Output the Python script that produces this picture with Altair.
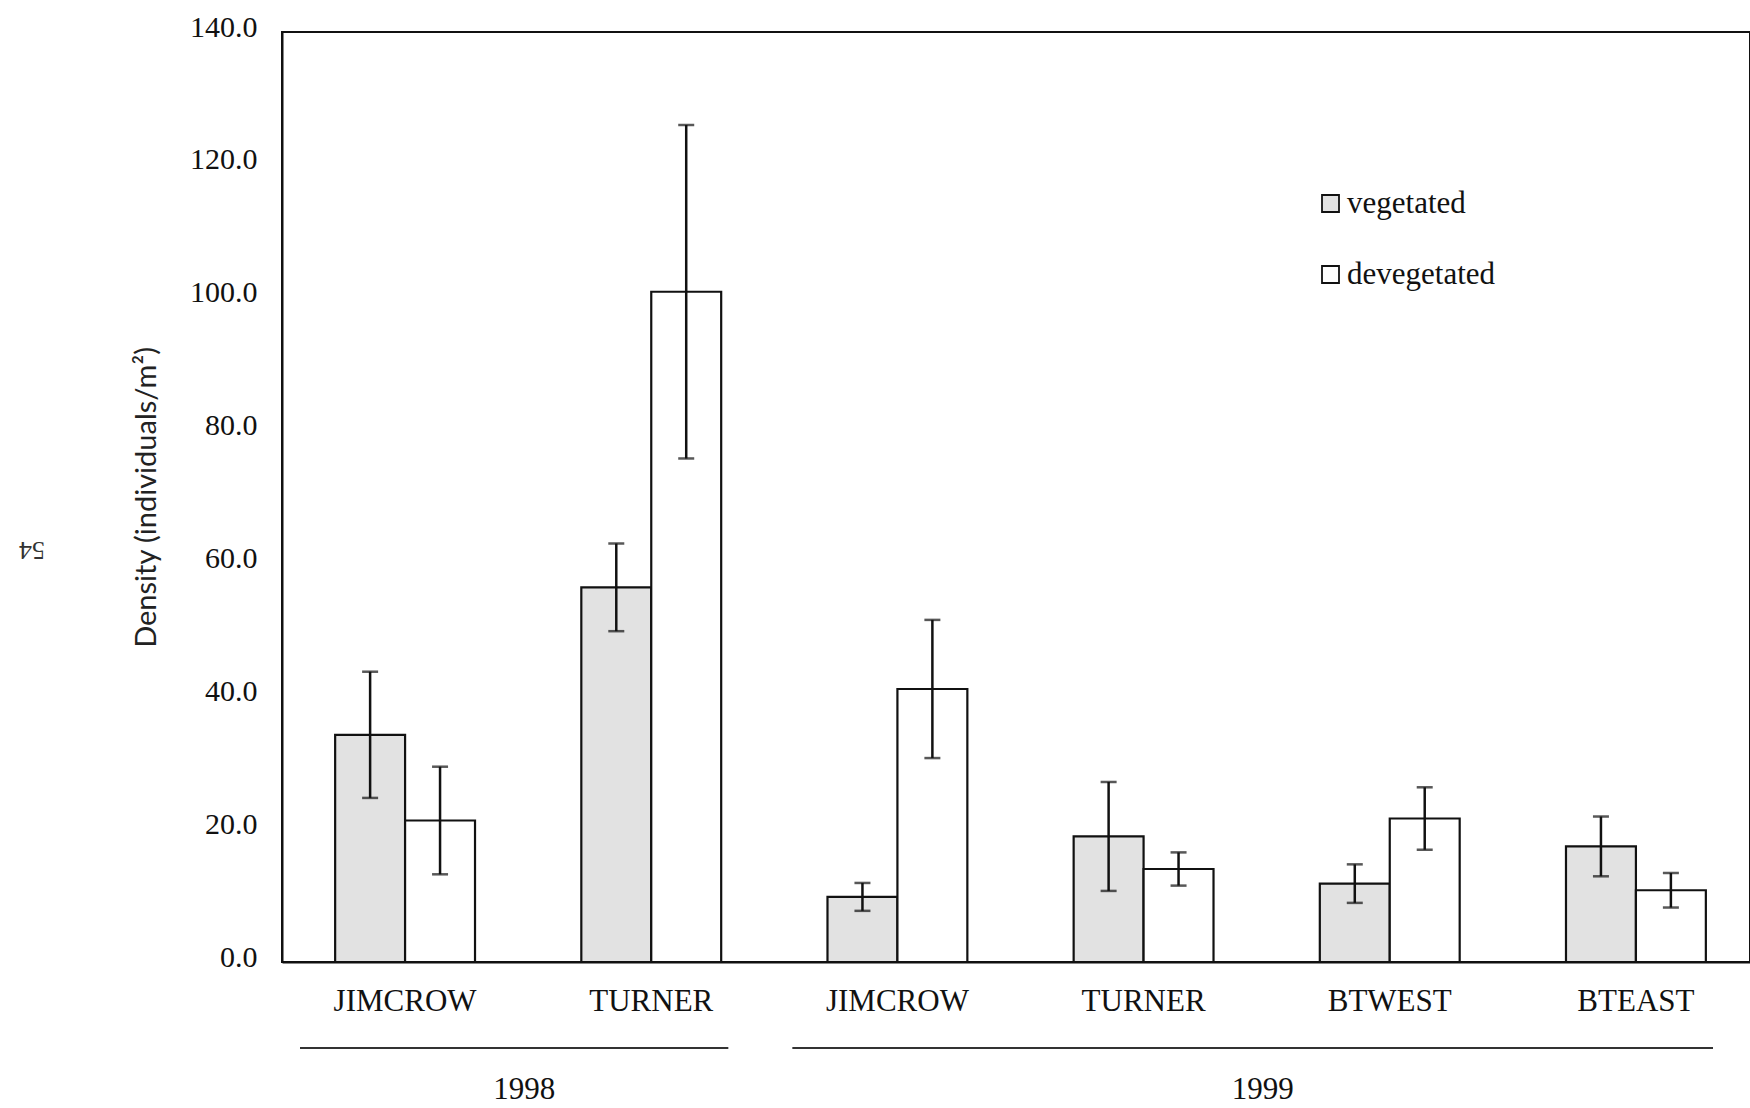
import altair as alt
import pandas as pd

# Mean density (individuals/m²) and standard error per site, by treatment
years = ["1998", "1998", "1999", "1999", "1999", "1999"]
sites = ["JIMCROW", "TURNER", "JIMCROW", "TURNER", "BTWEST", "BTEAST"]
veg_mean = [34.2, 56.4, 9.8, 18.9, 11.8, 17.4]
veg_se = [9.5, 6.6, 2.1, 8.2, 2.9, 4.5]
deveg_mean = [21.3, 100.9, 41.1, 14.0, 21.6, 10.8]
deveg_se = [8.1, 25.1, 10.4, 2.5, 4.7, 2.6]

treatments = ["vegetated", "devegetated"]
treatment_fill = ["#e2e2e2", "#ffffff"]

# Year groupings along the x axis, in site-slot units
year_labels = ["1998", "1999"]
year_first_slot = [0, 2]
year_last_slot = [2, 6]

y_ticks = [0, 20, 40, 60, 80, 100, 120, 140]

SERIF = "Liberation Serif"

keys = [f"{y} {s}" for y, s in zip(years, sites)]
rows = []
for i, k in enumerate(keys):
    for t, m, e in (("vegetated", veg_mean[i], veg_se[i]),
                    ("devegetated", deveg_mean[i], deveg_se[i])):
        rows.append({"key": k, "treatment": t, "mean": m,
                     "lo": m - e, "hi": m + e})
df = pd.DataFrame(rows)
caps = pd.concat([
    df[["key", "treatment", "lo"]].rename(columns={"lo": "cap"}),
    df[["key", "treatment", "hi"]].rename(columns={"hi": "cap"}),
])

year_df = pd.DataFrame({
    "year": year_labels,
    "start": year_first_slot,
    "end": year_last_slot,
})
year_df["mid"] = (year_df["start"] + year_df["end"]) / 2

RANGE_X = [0, 1477]

site_axis = alt.Axis(
    title=None,
    labelExpr="split(datum.label, ' ')[1]",
    labelFont=SERIF,
    labelFontSize=31,
    labelColor="#111111",
    labelAngle=0,
    labelBaseline="alphabetic",
    labelPadding=48,
    labelOverlap=False,
    ticks=False,
    tickSize=0,
    domainColor="#111111",
    domainWidth=2,
)
x_enc = alt.X(
    "key:N",
    sort=keys,
    scale=alt.Scale(range=RANGE_X, paddingInner=0, paddingOuter=0),
    axis=site_axis,
)
xoff = alt.XOffset(
    "treatment:N",
    sort=treatments,
    scale=alt.Scale(domain=treatments, paddingInner=0, paddingOuter=0.76),
)
y_scale = alt.Scale(domain=[0, 140], nice=False)

density_axis = alt.Axis(
    title="Density (individuals/m²)",
    titleFont="Lato",
    titleFontSize=29,
    titleFontWeight="normal",
    titleColor="#222222",
    titleAngle=270,
    titleAlign="center",
    titleBaseline="middle",
    titleX=-136,
    titleY=465,
    values=y_ticks,
    format=".1f",
    labelFont=SERIF,
    labelFontSize=30,
    labelColor="#111111",
    labelPadding=25,
    labelOffset=-5,
    ticks=False,
    tickSize=0,
    grid=False,
    domainColor="#111111",
    domainWidth=2,
)

bars = alt.Chart(df).mark_bar(stroke="#111111", strokeWidth=2.2).encode(
    x=x_enc,
    xOffset=xoff,
    y=alt.Y("mean:Q", scale=y_scale, axis=density_axis),
    fill=alt.Fill(
        "treatment:N",
        sort=treatments,
        scale=alt.Scale(domain=treatments, range=treatment_fill),
        legend=alt.Legend(
            title=None,
            orient="none",
            legendX=1033,
            legendY=156,
            symbolType="square",
            symbolSize=289,
            symbolStrokeColor="#111111",
            symbolStrokeWidth=1.8,
            labelFont=SERIF,
            labelFontSize=31,
            labelColor="#111111",
            labelOffset=1,
            rowPadding=39,
        ),
    ),
)

whiskers = alt.Chart(df).mark_rule(color="#111111", strokeWidth=2.5).encode(
    x=x_enc, xOffset=xoff,
    y=alt.Y("lo:Q", scale=y_scale, axis=density_axis), y2="hi:Q",
)

cap_marks = alt.Chart(caps).mark_tick(
    color="#111111", size=16, thickness=2.5, orient="horizontal"
).encode(
    x=x_enc, xOffset=xoff,
    y=alt.Y("cap:Q", scale=y_scale, axis=density_axis),
)

plot = alt.layer(bars, whiskers, cap_marks)

x_year = alt.Scale(domain=[0, 6], range=RANGE_X, nice=False, zero=False)

year_rules = alt.Chart(year_df).mark_rule(
    color="#333333", strokeWidth=2, xOffset=18, x2Offset=-46
).encode(
    x=alt.X("start:Q", scale=x_year, axis=None),
    x2="end:Q",
    y=alt.value(1016),
)

year_text = alt.Chart(year_df).mark_text(
    font=SERIF, fontSize=31, color="#111111", baseline="alphabetic", dx=-4
).encode(
    x=alt.X("mid:Q", scale=x_year, axis=None),
    y=alt.value(1067),
    text="year:N",
)

page_no = alt.Chart(pd.DataFrame({"page": ["54"]})).mark_text(
    font=SERIF, fontSize=26, color="#333333", angle=180,
    align="center", baseline="middle",
).encode(
    x=alt.value(-250),
    y=alt.value(518),
    text="page:N",
)

chart = alt.layer(plot, alt.layer(year_rules, year_text, page_no)).resolve_scale(
    x="independent"
).properties(
    width=1468,
    height=930,
    autosize=alt.AutoSizeParams(type="none"),
    padding={"left": 282, "top": 32, "right": 0, "bottom": 146},
    background="white",
).configure_view(
    stroke="#111111", strokeWidth=2
)

chart.save("out.html", embed_options={"renderer": "svg", "actions": False})
